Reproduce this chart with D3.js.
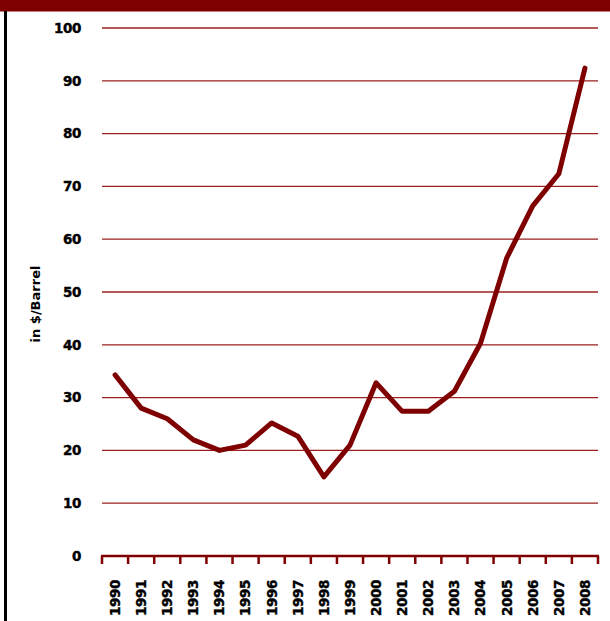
<!DOCTYPE html>
<html><head><meta charset="utf-8">
<script src="https://cdn.jsdelivr.net/npm/d3@7"></script>
<style>body{margin:0;background:#fff;}svg{display:block;}</style>
</head><body>
<script>
const years = ["1990","1991","1992","1993","1994","1995","1996","1997","1998","1999","2000","2001","2002","2003","2004","2005","2006","2007","2008"];
const prices = [34.3,28.0,26.0,22.0,20.0,21.0,25.2,22.7,15.0,21.0,32.8,27.4,27.4,31.2,40.3,56.4,66.3,72.4,92.4];
const yTicks = [0,10,20,30,40,50,60,70,80,90,100];
const yTitle = "in $/Barrel";

const W = 610, H = 621;
const svg = d3.select("body").append("svg").attr("width", W).attr("height", H);

// title bar (cropped) and left border
svg.append("rect").attr("x",0).attr("y",0).attr("width",W).attr("height",11.5).attr("fill","#7f0000");
svg.append("rect").attr("x",4).attr("y",11).attr("width",3).attr("height",H-11).attr("fill","#000");

const x = d3.scaleBand().domain(years).range([102, 598]).padding(0);
const y = d3.scaleLinear().domain([0,100]).range([556, 28]);

// gridlines
svg.append("g").selectAll("line").data(yTicks.filter(d=>d>0)).join("line")
  .attr("x1",102).attr("x2",598)
  .attr("y1",d=>y(d)).attr("y2",d=>y(d))
  .attr("stroke","#9a1f1f").attr("stroke-width",1.3);

// y labels
svg.append("g").selectAll("text").data(yTicks).join("text")
  .attr("x",81).attr("y",d=>y(d)).attr("dy","0.36em")
  .attr("text-anchor","end")
  .attr("font-family","DejaVu Sans").attr("font-weight","bold").attr("font-size",13.5)
  .attr("letter-spacing",-0.4)
  .attr("stroke","#000").attr("stroke-width",0.4)
  .attr("fill","#000").text(d=>d);

// x axis
svg.append("line").attr("x1",101).attr("x2",599).attr("y1",556).attr("y2",556)
  .attr("stroke","#7f0000").attr("stroke-width",2.5);
const tickPos = years.map(d=>x(d)).concat([x.range()[1]]);
svg.append("g").selectAll("line").data(tickPos).join("line")
  .attr("x1",d=>d).attr("x2",d=>d).attr("y1",556).attr("y2",564)
  .attr("stroke","#7f0000").attr("stroke-width",2.5);

svg.append("g").selectAll("text").data(years).join("text")
  .attr("transform",d=>`translate(${x(d)+x.bandwidth()/2},580) rotate(-90)`)
  .attr("text-anchor","end").attr("dy","0.36em")
  .attr("font-family","DejaVu Sans").attr("font-weight","bold").attr("font-size",13.5)
  .attr("letter-spacing",-0.4)
  .attr("stroke","#000").attr("stroke-width",0.4)
  .attr("fill","#000").text(d=>d);

// y title
svg.append("text").attr("transform","translate(35,304) rotate(-90)")
  .attr("text-anchor","middle").attr("dy","0.36em")
  .attr("font-family","DejaVu Sans").attr("font-weight","bold").attr("font-size",13)
  .attr("fill","#000").text(yTitle);

// line
const line = d3.line().x((d,i)=>x(years[i])+x.bandwidth()/2).y(d=>y(d));
svg.append("path").datum(prices).attr("d",line)
  .attr("fill","none").attr("stroke","#7f0000").attr("stroke-width",5)
  .attr("stroke-linejoin","round").attr("stroke-linecap","round");
</script>
</body></html>
